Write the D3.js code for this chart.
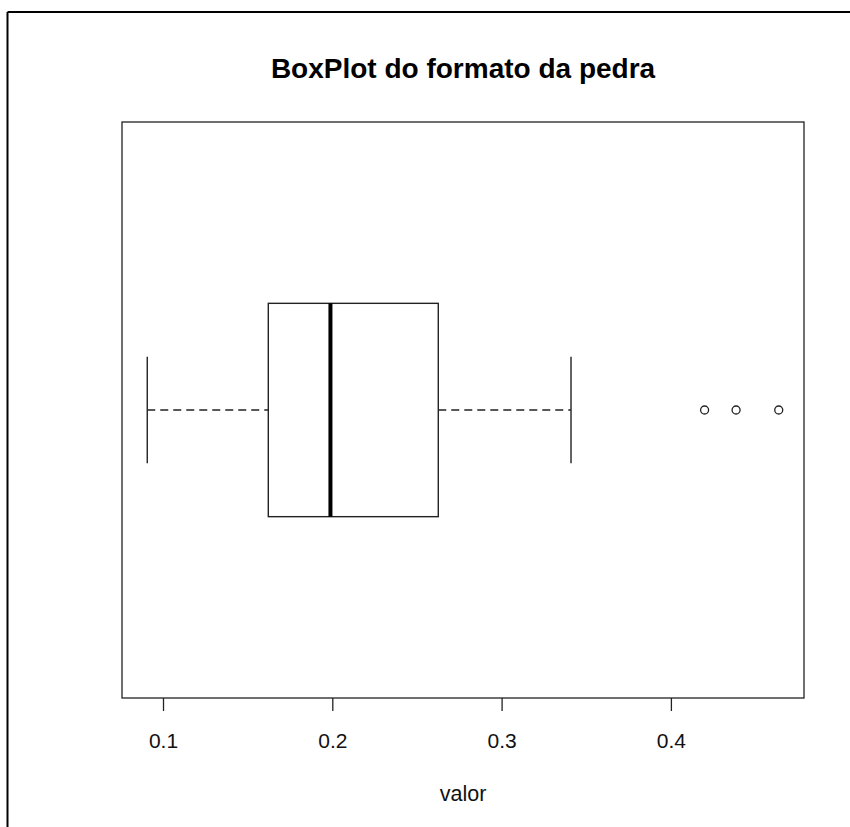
<!DOCTYPE html>
<html>
<head>
<meta charset="utf-8">
<script src="https://cdn.jsdelivr.net/npm/d3@7"></script>
<style>
  html, body { margin: 0; padding: 0; background: #fff; }
  svg { display: block; font-family: "Liberation Sans", Arial, sans-serif; }
</style>
</head>
<body>
<svg id="chart" width="850" height="827"></svg>
<script>
// estatísticas
const stats = { lowWhisker: 0.0907, q1: 0.1622, median: 0.1989, q3: 0.2626, highWhisker: 0.3410 };
const outliers = [0.4199, 0.4385, 0.4637];
const ticks = [0.1, 0.2, 0.3, 0.4];
const title = "BoxPlot do formato da pedra";
const xLabel = "valor";

const svg = d3.select("#chart");
const plot = { left: 122, right: 804, top: 122, bottom: 698 };

// moldura externa (só topo e esquerda visíveis)
svg.append("line").attr("x1", 7.5).attr("x2", 850).attr("y1", 12).attr("y2", 12)
  .attr("stroke", "#000").attr("stroke-width", 2);
svg.append("line").attr("x1", 7.5).attr("x2", 7.5).attr("y1", 12).attr("y2", 827)
  .attr("stroke", "#000").attr("stroke-width", 2);

// escala como o R: faixa dos dados + 4%
const lo = d3.min([stats.lowWhisker, ...outliers]);
const hi = d3.max([stats.highWhisker, ...outliers]);
const pad = (hi - lo) * 0.04;
const x = d3.scaleLinear().domain([lo - pad, hi + pad]).range([plot.left, plot.right]);
const y = d3.scaleLinear().domain([0.46, 1.54]).range([plot.bottom, plot.top]);

svg.append("rect")
  .attr("x", plot.left).attr("y", plot.top)
  .attr("width", plot.right - plot.left).attr("height", plot.bottom - plot.top)
  .attr("fill", "none").attr("stroke", "#222").attr("stroke-width", 1.3);

// eixo x
const axis = svg.append("g").attr("transform", `translate(0,${plot.bottom})`)
  .call(d3.axisBottom(x).tickValues(ticks).tickSize(13).tickPadding(22).tickFormat(d3.format(".1f")));
axis.select(".domain").remove();
axis.selectAll(".tick line").attr("stroke", "#222").attr("stroke-width", 1.3);
axis.selectAll(".tick text").attr("font-size", 21).attr("fill", "#111")
  .attr("font-family", "Liberation Sans, Arial, sans-serif");

svg.append("text").attr("x", (plot.left + plot.right) / 2).attr("y", 78)
  .attr("text-anchor", "middle").attr("font-size", 28).attr("font-weight", "bold")
  .text(title);
svg.append("text").attr("x", (plot.left + plot.right) / 2).attr("y", 801)
  .attr("text-anchor", "middle").attr("font-size", 21.5).attr("fill", "#111")
  .text(xLabel);

// boxplot
const g = svg.append("g").attr("stroke", "#222").attr("fill", "none").attr("stroke-width", 1.4);
const yc = y(1), half = 0.2, staple = 0.1;
g.append("line").attr("x1", x(stats.lowWhisker)).attr("x2", x(stats.q1))
  .attr("y1", yc).attr("y2", yc).attr("stroke-dasharray", "8,5");
g.append("line").attr("x1", x(stats.q3)).attr("x2", x(stats.highWhisker))
  .attr("y1", yc).attr("y2", yc).attr("stroke-dasharray", "8,5");
[stats.lowWhisker, stats.highWhisker].forEach((v) =>
  g.append("line").attr("x1", x(v)).attr("x2", x(v))
    .attr("y1", y(1 - staple)).attr("y2", y(1 + staple)));
g.append("rect").attr("x", x(stats.q1)).attr("y", y(1 + half))
  .attr("width", x(stats.q3) - x(stats.q1)).attr("height", y(1 - half) - y(1 + half))
  .attr("fill", "#fff");
g.append("line").attr("x1", x(stats.median)).attr("x2", x(stats.median))
  .attr("y1", y(1 + half)).attr("y2", y(1 - half)).attr("stroke", "#000").attr("stroke-width", 4);
g.selectAll("circle").data(outliers).join("circle")
  .attr("cx", (d) => x(d)).attr("cy", yc).attr("r", 4).attr("stroke-width", 1.3);
</script>
</body>
</html>
